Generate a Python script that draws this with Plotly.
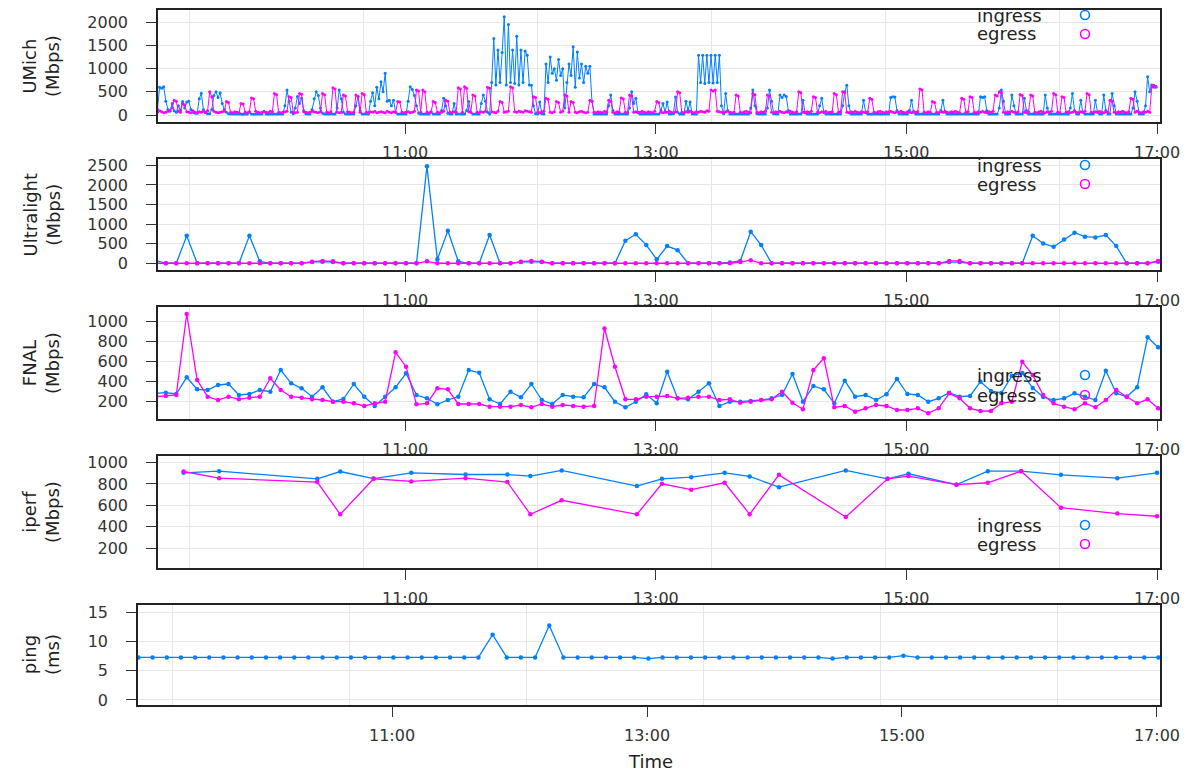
import plotly.graph_objects as go
import pandas as pd

W, H = 1185, 775
DAY = "2010-06-01 "
FONT = "DejaVu Sans"
BLUE = "#0080ff"
PINK = "#ff00ff"
INK = "#222222"
GRID = "#e6e6e6"

# ---------------- data ----------------
X_TICK_TEXT = ["11:00", "13:00", "15:00", "17:00"]
SERIES_NAMES = ["ingress", "egress"]
PANEL_TITLES = ["UMich<br>(Mbps)", "Ultralight<br>(Mbps)", "FNAL<br>(Mbps)", "iperf<br>(Mbps)", "ping<br>(ms)"]

# UMich: 1-minute samples starting 09:00:30
UMICH_IN = [
    150,120,600,580,610,300,120,80,250,90,60,200,100,290,150,280,300,120,60,40,
    40,350,470,120,50,30,30,120,420,500,380,480,250,120,60,30,20,20,20,20,
    20,20,15,20,25,60,20,15,20,20,20,20,80,20,15,20,20,25,20,20,
    20,20,200,540,300,60,30,150,400,250,360,100,30,20,20,120,350,500,420,150,
    40,20,20,20,30,20,20,150,540,350,60,20,20,20,30,20,200,400,100,20,
    20,20,20,300,480,200,600,350,720,500,900,300,320,200,320,60,20,20,20,20,
    20,300,610,550,420,200,40,20,20,20,20,20,60,20,20,20,20,100,360,200,
    40,20,20,250,20,20,20,20,20,100,290,60,20,20,20,20,250,430,300,60,
    20,700,1650,650,1400,700,1350,2120,650,1950,700,1400,680,1700,650,1400,700,1380,1290,650,
    645,200,30,20,280,30,20,1100,700,1250,900,1000,750,1200,850,1000,150,700,1100,850,
    1470,600,1360,800,1100,700,1050,900,1050,300,20,20,20,20,20,20,20,200,430,100,
    20,20,20,20,20,20,20,150,500,250,360,60,20,20,20,20,20,20,20,20,
    20,20,100,250,60,280,20,20,30,390,60,20,20,20,300,100,280,20,20,20,
    1290,700,1290,680,1290,700,1290,690,1290,700,1290,200,30,466,100,20,20,20,20,20,
    20,20,20,20,20,150,540,200,30,20,20,20,20,150,540,300,30,20,20,430,
    380,430,400,100,20,20,20,20,20,20,320,60,20,20,20,20,20,20,200,360,
    60,20,20,20,20,20,20,20,20,200,500,645,200,20,20,20,20,20,20,320,
    60,20,20,20,20,20,20,20,20,20,20,20,380,395,390,100,20,20,20,20,
    20,100,320,60,20,20,20,20,20,20,20,20,20,20,20,20,100,320,60,20,
    20,20,20,20,20,20,20,20,20,20,20,20,20,20,20,395,380,395,100,20,
    20,20,20,20,150,540,300,20,20,20,430,200,20,20,20,20,360,100,20,20,
    20,20,20,20,20,20,430,150,20,20,20,20,20,20,20,20,20,20,150,466,
    100,20,20,320,60,20,20,20,20,20,320,60,20,20,430,100,20,20,466,200,
    20,20,20,20,20,20,20,20,150,500,300,20,20,20,200,825,500,650,600,620,
]
UMICH_EG = [
    80,60,90,70,50,60,80,100,150,320,300,80,60,250,220,70,60,50,90,60,
    50,70,60,80,60,90,500,390,80,60,50,60,70,80,290,270,60,50,70,60,
    50,250,240,60,50,70,370,350,80,60,50,60,70,60,50,80,70,466,440,60,
    50,60,70,80,395,380,60,50,60,466,450,70,60,50,60,80,70,60,50,70,
    466,440,60,50,70,590,560,60,50,60,430,410,70,60,50,60,430,400,60,466,
    440,60,50,70,60,80,50,60,70,60,50,80,60,50,70,60,290,280,60,50,
    60,70,50,60,80,540,520,60,540,500,60,50,70,290,270,60,50,60,80,320,
    300,60,50,70,60,590,560,60,610,580,70,60,430,410,60,50,70,60,80,600,
    580,70,60,50,80,290,270,60,70,80,610,590,70,60,80,70,60,90,80,70,
    60,395,380,60,50,70,80,360,340,60,50,70,290,270,60,80,430,410,60,290,
    270,60,50,70,80,60,50,60,320,300,60,50,70,60,50,80,60,320,300,60,
    50,70,60,370,350,60,50,430,410,60,70,50,60,80,60,50,70,60,50,80,
    290,270,60,50,70,60,80,60,50,70,500,480,60,50,70,60,80,60,50,70,
    60,80,70,60,90,80,540,520,540,80,70,60,50,70,80,60,50,60,430,410,
    60,50,70,80,60,50,466,440,60,50,70,60,80,430,410,60,50,70,60,80,
    60,50,70,60,80,60,50,70,500,480,60,50,70,60,80,395,380,60,50,70,
    60,80,50,60,70,466,440,60,70,500,480,60,50,70,60,80,60,50,70,60,
    50,70,360,340,60,50,70,80,60,50,70,60,80,60,50,70,60,80,60,50,
    70,60,50,80,60,70,560,540,60,50,70,60,290,270,60,50,70,60,80,60,
    50,70,60,80,60,50,360,340,60,70,395,380,60,50,70,60,80,60,50,70,
    60,80,430,410,500,480,60,50,70,60,80,60,50,70,445,420,60,50,70,430,
    410,60,50,70,80,60,50,70,60,80,466,440,60,50,395,380,60,70,50,60,
    80,60,50,70,60,80,466,440,60,50,70,60,80,60,50,70,60,320,300,60,
    50,70,60,80,60,50,70,360,340,60,80,60,50,70,60,80,60,610,640,600,
]

# Ultralight: 5-minute samples starting 09:00:30
ULTRA_IN = [
    75,0,0,700,0,0,0,0,0,700,
    50,0,0,0,0,30,40,30,0,0,
    0,0,0,0,0,0,2480,100,830,50,
    0,0,720,0,0,30,40,30,0,0,
    0,0,0,0,0,575,740,465,100,440,
    335,0,0,0,0,20,60,807,465,0,
    0,0,0,0,0,0,0,0,0,0,
    0,0,0,0,0,0,30,30,0,0,
    0,0,0,0,704,507,421,610,782,678,
    661,722,438,0,0,0,40,
]
ULTRA_EG = [
    0,0,0,0,0,0,0,0,0,0,
    0,0,0,0,0,40,60,50,0,0,
    0,0,0,0,0,0,50,0,0,0,
    0,0,0,0,0,40,60,40,0,0,
    0,0,0,0,0,0,0,0,0,0,
    0,0,0,0,0,0,30,80,0,0,
    0,0,0,0,0,0,0,0,0,0,
    0,0,0,0,0,0,60,60,0,0,
    0,0,0,0,0,0,0,0,0,0,
    0,0,0,0,0,0,60,
]

# FNAL: 5-minute samples starting 09:00:30
FNAL_IN = [
    277,283,270,437,317,310,360,370,260,270,310,293,510,377,327,243,337,193,220,370,
    243,150,243,337,477,260,227,167,210,243,510,483,217,170,293,237,370,210,170,260,
    243,237,370,337,193,137,193,267,177,493,227,217,293,377,150,193,193,200,210,227,
    260,470,193,350,317,177,403,243,260,210,267,420,270,260,193,227,283,243,250,393,
    300,280,450,480,330,240,210,227,277,243,210,503,277,243,337,837,737,
]
FNAL_EG = [
    243,250,260,1070,410,243,210,243,217,233,243,427,310,243,233,217,210,193,193,177,
    150,177,193,687,543,167,177,327,317,170,170,170,143,143,143,160,137,170,143,160,
    150,143,150,925,543,217,217,243,243,250,227,233,243,243,210,217,183,193,210,217,
    293,183,117,510,627,137,150,93,127,160,150,110,110,127,77,127,277,227,127,100,
    100,177,193,593,460,260,177,143,117,177,137,210,310,243,177,217,127,
]

# iperf: irregular test times
IPERF_TIMES = ["09:14", "09:31", "10:18", "10:29", "10:45", "11:03", "11:29", "11:49",
               "12:00", "12:15", "12:51", "13:03", "13:17", "13:33", "13:45", "13:59",
               "14:31", "14:51", "15:01", "15:24", "15:39", "15:55", "16:14", "16:41", "17:00"]
IPERF_IN = [904, 919, 848, 916, 850, 904, 888, 888, 873, 926, 780, 848, 863,
            904, 870, 770, 926, 848, 895, 793, 919, 919, 885, 854, 904]
IPERF_EG = [916, 854, 817, 516, 848, 823, 854, 817, 516, 647, 516, 801, 746,
            811, 516, 885, 491, 848, 873, 793, 811, 919, 578, 523, 498]

# ping: samples every 400 s starting 09:00:40
PING = [
    7.3,7.3,7.3,7.3,7.3,7.3,7.3,7.3,7.3,7.3,7.3,7.3,7.3,7.3,7.3,7.3,7.3,7.3,7.3,7.3,
    7.3,7.3,7.3,7.3,7.3,11.2,7.3,7.3,7.3,12.8,7.3,7.3,7.3,7.3,7.3,7.3,7.1,7.3,7.3,7.3,
    7.3,7.3,7.3,7.3,7.3,7.3,7.3,7.3,7.3,7.1,7.3,7.3,7.3,7.3,7.6,7.3,7.3,7.3,7.3,7.3,
    7.3,7.3,7.3,7.3,7.3,7.3,7.3,7.3,7.3,7.3,7.3,7.3,7.3,
]

Y_TICKS = [
    [0, 500, 1000, 1500, 2000],
    [0, 500, 1000, 1500, 2000, 2500],
    [200, 400, 600, 800, 1000],
    [200, 400, 600, 800, 1000],
    [0, 5, 10, 15],
]

# ---------------- layout geometry (page pixels) ----------------
Y_RANGES = [[-150, 2265], [-172, 2664], [20, 1140], [14, 1061], [-0.86, 16.3]]
PANEL_TOP = [10, 159, 307, 456, 605]
PANEL_BOT = [122, 270, 419, 568, 705]
PANEL_LEFT = [158, 158, 158, 158, 138]
PANEL_RIGHT = 1160
X_RANGE_TOP = [DAY + "09:01:45", DAY + "17:01:26"]
X_RANGE_PING = [DAY + "09:00:28", DAY + "17:01:25"]
X_TICKS = [DAY + t for t in X_TICK_TEXT]
GRID_X = pd.date_range(DAY + "09:16:40", periods=6, freq="5000s")
LEGEND_OFFSETS = [(5, 24), (6, 25), (68, 88), (69, 88)]


def px(x):
    return x / W


def py(y):
    return 1 - y / H


t_umich = pd.date_range(DAY + "09:00:30", periods=len(UMICH_IN), freq="1min")
t_ultra = pd.date_range(DAY + "09:00:30", periods=len(ULTRA_IN), freq="5min")
t_fnal = pd.date_range(DAY + "09:00:30", periods=len(FNAL_IN), freq="5min")
t_iperf = [pd.Timestamp(DAY + t) for t in IPERF_TIMES]
t_ping = pd.date_range(DAY + "09:00:40", periods=len(PING), freq="400s")

panels = [
    [(t_umich, UMICH_IN, BLUE), (t_umich, UMICH_EG, PINK)],
    [(t_ultra, ULTRA_IN, BLUE), (t_ultra, ULTRA_EG, PINK)],
    [(t_fnal, FNAL_IN, BLUE), (t_fnal, FNAL_EG, PINK)],
    [(t_iperf, IPERF_IN, BLUE), (t_iperf, IPERF_EG, PINK)],
    [(t_ping, PING, BLUE)],
]

fig = go.Figure()
for i, series in enumerate(panels):
    n = "" if i == 0 else str(i + 1)
    msize = 3 if i == 0 else 4.5
    lw = 1.0 if i == 0 else 1.3
    for (tx, vals, col) in series:
        fig.add_trace(go.Scatter(
            x=tx, y=vals, mode="lines+markers",
            line=dict(color=col, width=lw),
            marker=dict(color=col, size=msize),
            xaxis="x" + n, yaxis="y" + n, showlegend=False, hoverinfo="skip",
        ))

tickfont = dict(family=FONT, size=16, color="#333333")
for i in range(5):
    n = "" if i == 0 else str(i + 1)
    xr = X_RANGE_PING if i == 4 else X_RANGE_TOP
    fig.layout["xaxis" + n] = dict(
        type="date", range=xr, domain=[px(PANEL_LEFT[i]), px(PANEL_RIGHT)],
        anchor="y" + n, tickmode="array", tickvals=X_TICKS, ticktext=X_TICK_TEXT,
        ticks="outside", ticklen=10, tickwidth=1.3, tickcolor="#333333",
        showgrid=False, zeroline=False, automargin=False,
        minor=dict(tickmode="array", tickvals=list(GRID_X), showgrid=True,
                   gridcolor=GRID, gridwidth=1, ticks=""),
        showline=True, mirror=True, linecolor=INK, linewidth=1.6,
        tickfont=tickfont, ticklabelstandoff=5, fixedrange=True,
    )
    fig.layout["yaxis" + n] = dict(
        range=Y_RANGES[i], domain=[py(PANEL_BOT[i]), py(PANEL_TOP[i])],
        anchor="x" + n, tickmode="array", tickvals=Y_TICKS[i],
        ticks="outside", ticklen=10, tickwidth=1.3, tickcolor="#333333",
        showgrid=True, gridcolor=GRID, gridwidth=1, zeroline=False, automargin=False,
        showline=True, mirror=True, linecolor=INK, linewidth=1.6,
        tickfont=tickfont, ticklabelstandoff=15, fixedrange=True,
    )

annotations = []
shapes = []
for i in range(5):
    yc = (PANEL_TOP[i] + PANEL_BOT[i]) / 2
    annotations.append(dict(
        x=px(41), y=py(yc), xref="paper", yref="paper", text=PANEL_TITLES[i],
        textangle=-90, showarrow=False, xanchor="center", yanchor="middle",
        font=dict(family=FONT, size=18, color=INK),
    ))
for i in range(4):
    for name, off, col in zip(SERIES_NAMES, LEGEND_OFFSETS[i], [BLUE, PINK]):
        yy = PANEL_TOP[i] + off
        annotations.append(dict(
            x=px(975), y=py(yy), xref="paper", yref="paper", text=name,
            showarrow=False, xanchor="left", yanchor="middle",
            font=dict(family=FONT, size=18, color=INK),
        ))
        r = 4.5
        shapes.append(dict(
            type="circle", xref="paper", yref="paper",
            x0=px(1085 - r), x1=px(1085 + r), y0=py(yy + r), y1=py(yy - r),
            line=dict(color=col, width=1.6), fillcolor="rgba(0,0,0,0)",
        ))
annotations.append(dict(
    x=px(650), y=py(761), xref="paper", yref="paper", text="Time",
    showarrow=False, xanchor="center", yanchor="middle",
    font=dict(family=FONT, size=18, color=INK),
))

fig.update_layout(
    width=W, height=H, autosize=False,
    margin=dict(l=0, r=0, t=0, b=0, autoexpand=False),
    paper_bgcolor="white", plot_bgcolor="white",
    annotations=annotations, shapes=shapes,
    showlegend=False,
    font=dict(family=FONT, color=INK),
)

fig.write_html(
    "out.html",
    config={"displayModeBar": False},
    post_script="document.body.style.margin='0';document.body.style.overflow='hidden';",
)
